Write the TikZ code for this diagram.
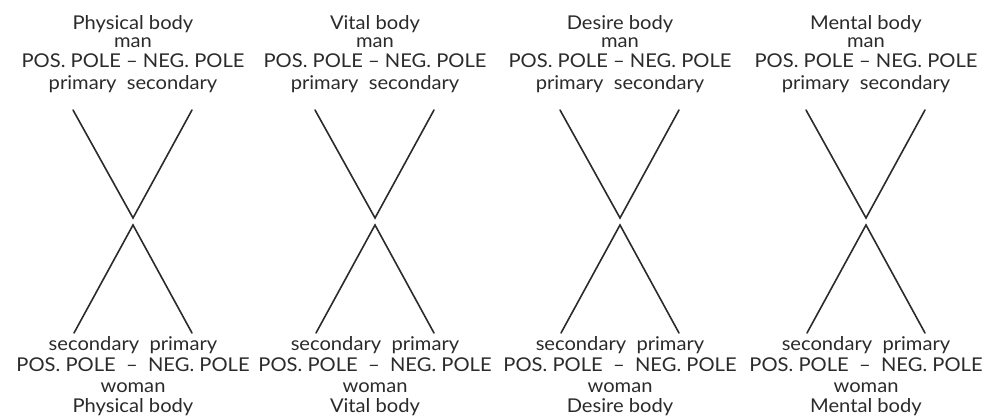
\documentclass[tikz,border=0pt]{standalone}
\usepackage{fontspec}
\setmainfont{Lato}[FakeStretch=1.06]
\definecolor{ink}{HTML}{2B2B2B}
\begin{document}
\begin{tikzpicture}[x=1pt,y=-1pt,
  lbl/.style={anchor=base, inner sep=0pt, text=ink, font=\fontsize{19}{21}\selectfont},
  xline/.style={draw=ink, line width=1.6pt, line cap=round}]
\fill[white] (0,0) rectangle (994,419);
\useasboundingbox (0,0) rectangle (994,419);
\foreach \cx/\bname [count=\i] in {133/Physical, 375/Vital, 620/Desire, 866/Mental} {
  % top block
  \node[lbl] (h\i) at (\cx,30) {\bname\ body};
  \node[lbl] (m\i) at (\cx,48) {man};
  \node[lbl] (p\i) at (\cx,68) {POS. POLE -- NEG. POLE};
  \node[lbl] (q\i) at (\cx,90) {primary\ \ secondary};
  % cross
  \coordinate (tl\i) at (\cx-60,110);
  \coordinate (tr\i) at (\cx+59,110);
  \coordinate (uc\i) at (\cx,218);
  \coordinate (lc\i) at (\cx,225);
  \coordinate (bl\i) at (\cx-59,333);
  \coordinate (br\i) at (\cx+59,333);
  \draw[xline] (tl\i) -- (uc\i) -- (tr\i);
  \draw[xline] (bl\i) -- (lc\i) -- (br\i);
  % bottom block
  \node[lbl] (s\i) at (\cx,351) {secondary\ \ primary};
  \node[lbl] (n\i) at (\cx,372) {POS. POLE \ -- \ NEG. POLE};
  \node[lbl] (w\i) at (\cx,393) {woman};
  \node[lbl] (b\i) at (\cx,413) {\bname\ body};
}
\end{tikzpicture}
\end{document}
